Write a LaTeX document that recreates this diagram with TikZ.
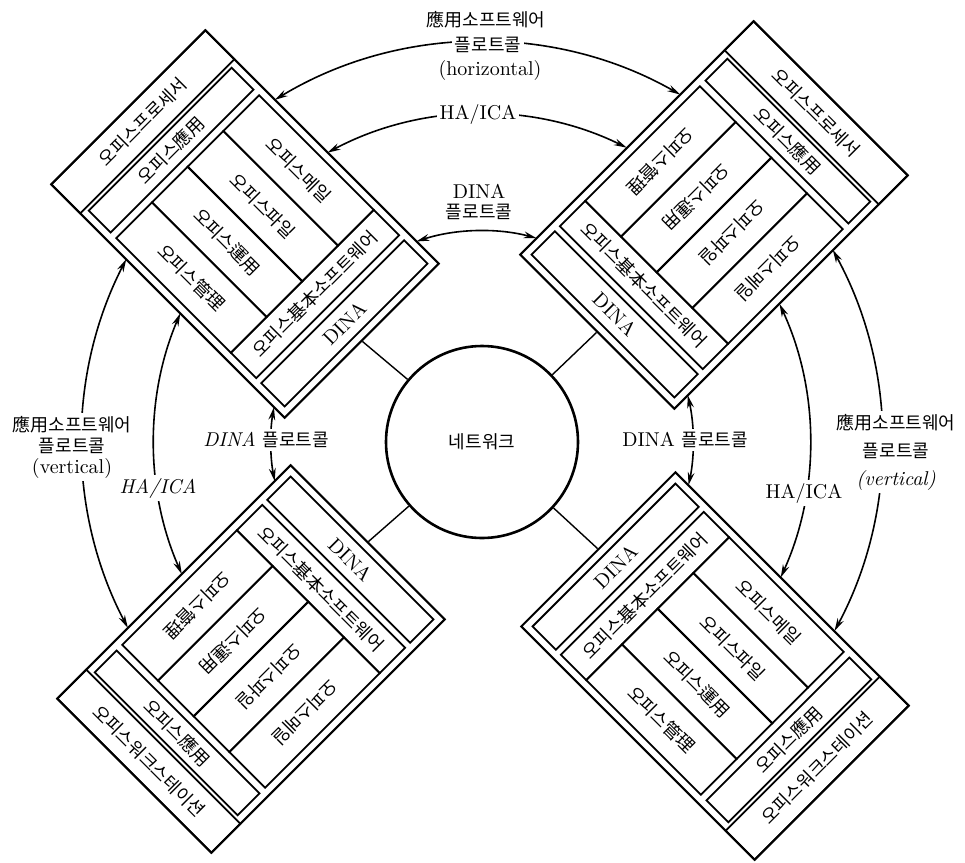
\documentclass[tikz,border=0pt]{standalone}
\usepackage{fontspec}
\newfontfamily\hangul{Noto Sans CJK KR}
\usetikzlibrary{positioning, arrows.meta, calc}

\begin{document}
\begin{tikzpicture}[x=0.5pt, y=0.5pt,
    stackframe/.style={draw, line width=1pt, minimum width=165pt, minimum height=109pt, inner sep=0pt, transform shape},
    cell/.style={draw, line width=0.9pt, inner sep=0pt, transform shape, font=\fontsize{9}{9}\selectfont},
    stripcell/.style={cell, minimum width=101pt},
    colcell/.style={cell, minimum width=81pt, minimum height=25.25pt},
    link/.style={line width=0.7pt},
    arrow/.style={{Stealth[length=6.5pt, width=3.4pt]}-{Stealth[length=6.5pt, width=3.4pt]}, line width=0.8pt},
    lbl/.style={fill=white, inner sep=1.5pt, align=center}
]
    \useasboundingbox (0,0) rectangle (965,-863);

    % Network
    \node[circle, draw, line width=1.3pt, minimum size=96pt, inner sep=0pt] (net) at (482,-442) {\hangul\fontsize{9}{9}\selectfont 네트워크};

    % Office stacks
    \foreach \nm/\cx/\cy/\rot/\sa/\ca/\olabel in {
        tl/245/-224/135/-90/180/오피스프로세서,
        tr/714/-215/45/-90/180/오피스프로세서,
        bl/251/-659/225/90/0/오피스워크스테이션,
        br/715/-666/-45/90/0/오피스워크스테이션} {
        \begin{scope}[shift={(\cx,\cy)}, rotate=\rot]
            \node[stackframe] (\nm frame) at (0,0) {};
            \node[cell, minimum width=109pt, minimum height=20.5pt, rotate=\sa] (\nm outer) at (144.5,0) {\hangul\olabel};
            \node[stripcell, minimum height=15.5pt, rotate=\sa] (\nm app) at (104.5,0) {\hangul 오피스應用};
            \node[stripcell, minimum height=18pt, rotate=\sa] (\nm base) at (-99,0) {\hangul 오피스基本소프트웨어};
            \node[stripcell, minimum height=16.5pt, rotate=\sa, font=\fontsize{10}{10}\selectfont] (\nm dina) at (-140.5,0) {DINA};
            \begin{scope}[rotate=\ca]
                \node[colcell] (\nm mgt) at (0,-75.75) {\hangul 오피스管理};
                \node[colcell] (\nm ops) at (0,-25.25) {\hangul 오피스運用};
                \node[colcell] (\nm file) at (0,25.25) {\hangul 오피스파일};
                \node[colcell] (\nm mail) at (0,75.75) {\hangul 오피스메일};
            \end{scope}
        \end{scope}
    }

    % Network to DINA
    \foreach \nm in {tl, tr, bl, br}
        \draw[link] (net) -- (\nm frame.west);

    % Protocol arcs
    \foreach \nm/\from/\to/\r in {hzo/121.2/60.3/400, hzm/118.1/63.8/328, hzi/108.1/75.0/211,
        lvo/152.8/207.7/400, lvm/156.9/203.75/328, lvi/170.5/190.7/211,
        rvo/28.7/-28.2/400, rvm/24.9/-24.4/328, rvi/12.8/-11.8/211} {
        \coordinate (\nm) at ($(net)+(\from:\r)$);
        \draw[arrow] (\nm) arc[start angle=\from, end angle=\to, radius=\r];
    }

    % Labels
    \node[font=\hangul\fontsize{9}{9}\selectfont] (hztop) at ($(net)+(4,422)$) {應用소프트웨어};
    \node[lbl, font=\hangul\fontsize{9}{9}\selectfont] (hzmid) at ($(net)+(6,397)$) {플로트콜};
    \node[font=\fontsize{10}{10}\selectfont] (hzbot) at ($(net)+(8,372)$) {(horizontal)};
    \node[lbl, font=\fontsize{10}{10}\selectfont] (hzha) at ($(net)+(-4,328)$) {HA/ICA};
    \node[align=center, font=\fontsize{10}{10}\selectfont] (hzdina) at ($(net)+(-3,240)$) {DINA\\{\hangul\fontsize{9}{10}\selectfont 플로트콜}};

    \node[lbl, font=\fontsize{9}{10.5}\selectfont] (lvapp) at ($(net)+(-410,-5)$) {{\hangul 應用소프트웨어}\\{\hangul 플로트콜}\\{\fontsize{10}{10.5}\selectfont (vertical)}};
    \node[lbl, font=\fontsize{10}{10}\selectfont] (lvha) at ($(net)+(-324,-46)$) {\textit{HA/ICA}};
    \node[lbl, font=\fontsize{10}{10}\selectfont] (lvdina) at ($(net)+(-216,2)$) {\textit{DINA} {\hangul\fontsize{9}{10}\selectfont 플로트콜}};

    \node[lbl, font=\fontsize{9}{14}\selectfont] (rvapp) at ($(net)+(414,-10)$) {{\hangul 應用소프트웨어}\\{\hangul 플로트콜}\\{\fontsize{10}{14}\selectfont\itshape (vertical)}};
    \node[lbl, font=\fontsize{10}{10}\selectfont] (rvha) at ($(net)+(322,-51)$) {HA/ICA};
    \node[lbl, font=\fontsize{10}{10}\selectfont] (rvdina) at ($(net)+(203,2)$) {DINA {\hangul\fontsize{9}{10}\selectfont 플로트콜}};
\end{tikzpicture}
\end{document}
